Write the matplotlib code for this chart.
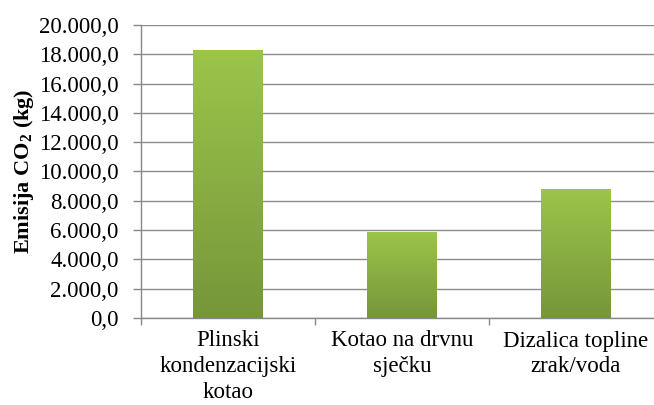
import numpy as np
import matplotlib
matplotlib.use("Agg")
import matplotlib.pyplot as plt
from matplotlib.ticker import FuncFormatter, FixedLocator
from matplotlib.colors import LinearSegmentedColormap

categories = ["Plinski\nkondenzacijski\nkotao", "Kotao na drvnu\nsječku", "Dizalica topline\nzrak/voda"]
emisija = [18320, 5900, 8830]
y_ticks = np.arange(0, 20001, 2000)

plt.rcParams['font.family'] = 'serif'
plt.rcParams['font.serif'] = ['Liberation Serif', 'DejaVu Serif']
plt.rcParams['mathtext.fontset'] = 'custom'
plt.rcParams['mathtext.rm'] = 'Liberation Serif'
plt.rcParams['mathtext.bf'] = 'Liberation Serif:bold'

fig = plt.figure(figsize=(6.54, 4.05), dpi=100)
ax = fig.add_axes([141/654, 87/405, 522/654, 293/405])

x = np.arange(len(categories))
bars = ax.bar(x, emisija, width=0.4, color='#8aad42', zorder=2)

# vertical gradient inside each bar, light on top, darker at bottom
cmap = LinearSegmentedColormap.from_list('zelena', ['#76963a', '#9cc54b'])
grad = np.linspace(0, 1, 256).reshape(-1, 1)
for b in bars:
    x0, y0 = b.get_x(), b.get_y()
    im = ax.imshow(grad, cmap=cmap, origin='lower', aspect='auto',
                   extent=[x0, x0 + b.get_width(), y0, y0 + b.get_height()], zorder=3)
    im.set_clip_path(b)

ax.set_xlim(-0.5, len(categories) - 0.5)
ax.set_ylim(0, 20000)
ax.yaxis.set_major_locator(FixedLocator(y_ticks))

def fmt(v, pos):
    s = f"{v:,.1f}"
    return s.replace(",", "X").replace(".", ",").replace("X", ".")

ax.yaxis.set_major_formatter(FuncFormatter(fmt))
ax.set_xticks(x)
ax.set_xticklabels(categories, fontsize=16.5, linespacing=1.3)
ax.set_xticks(np.arange(-0.5, len(categories), 1), minor=True)
ax.tick_params(axis='x', which='major', length=0, pad=9)
ax.tick_params(axis='x', which='minor', length=5, color='#888888', width=1)
ax.tick_params(axis='y', length=6, color='#888888', width=1, pad=10, labelsize=16.5)

ax.grid(axis='y', color='#8c8c8c', linewidth=1, zorder=0)
ax.set_axisbelow(True)
for s in ['top', 'right']:
    ax.spines[s].set_visible(False)
for s in ['left', 'bottom']:
    ax.spines[s].set_color('#888888')
    ax.spines[s].set_linewidth(1)

ax.set_ylabel(r"Emisija CO$_\mathbf{2}$ (kg)", fontsize=16, fontweight='bold', labelpad=2)

fig.savefig("out.png", dpi=100)
